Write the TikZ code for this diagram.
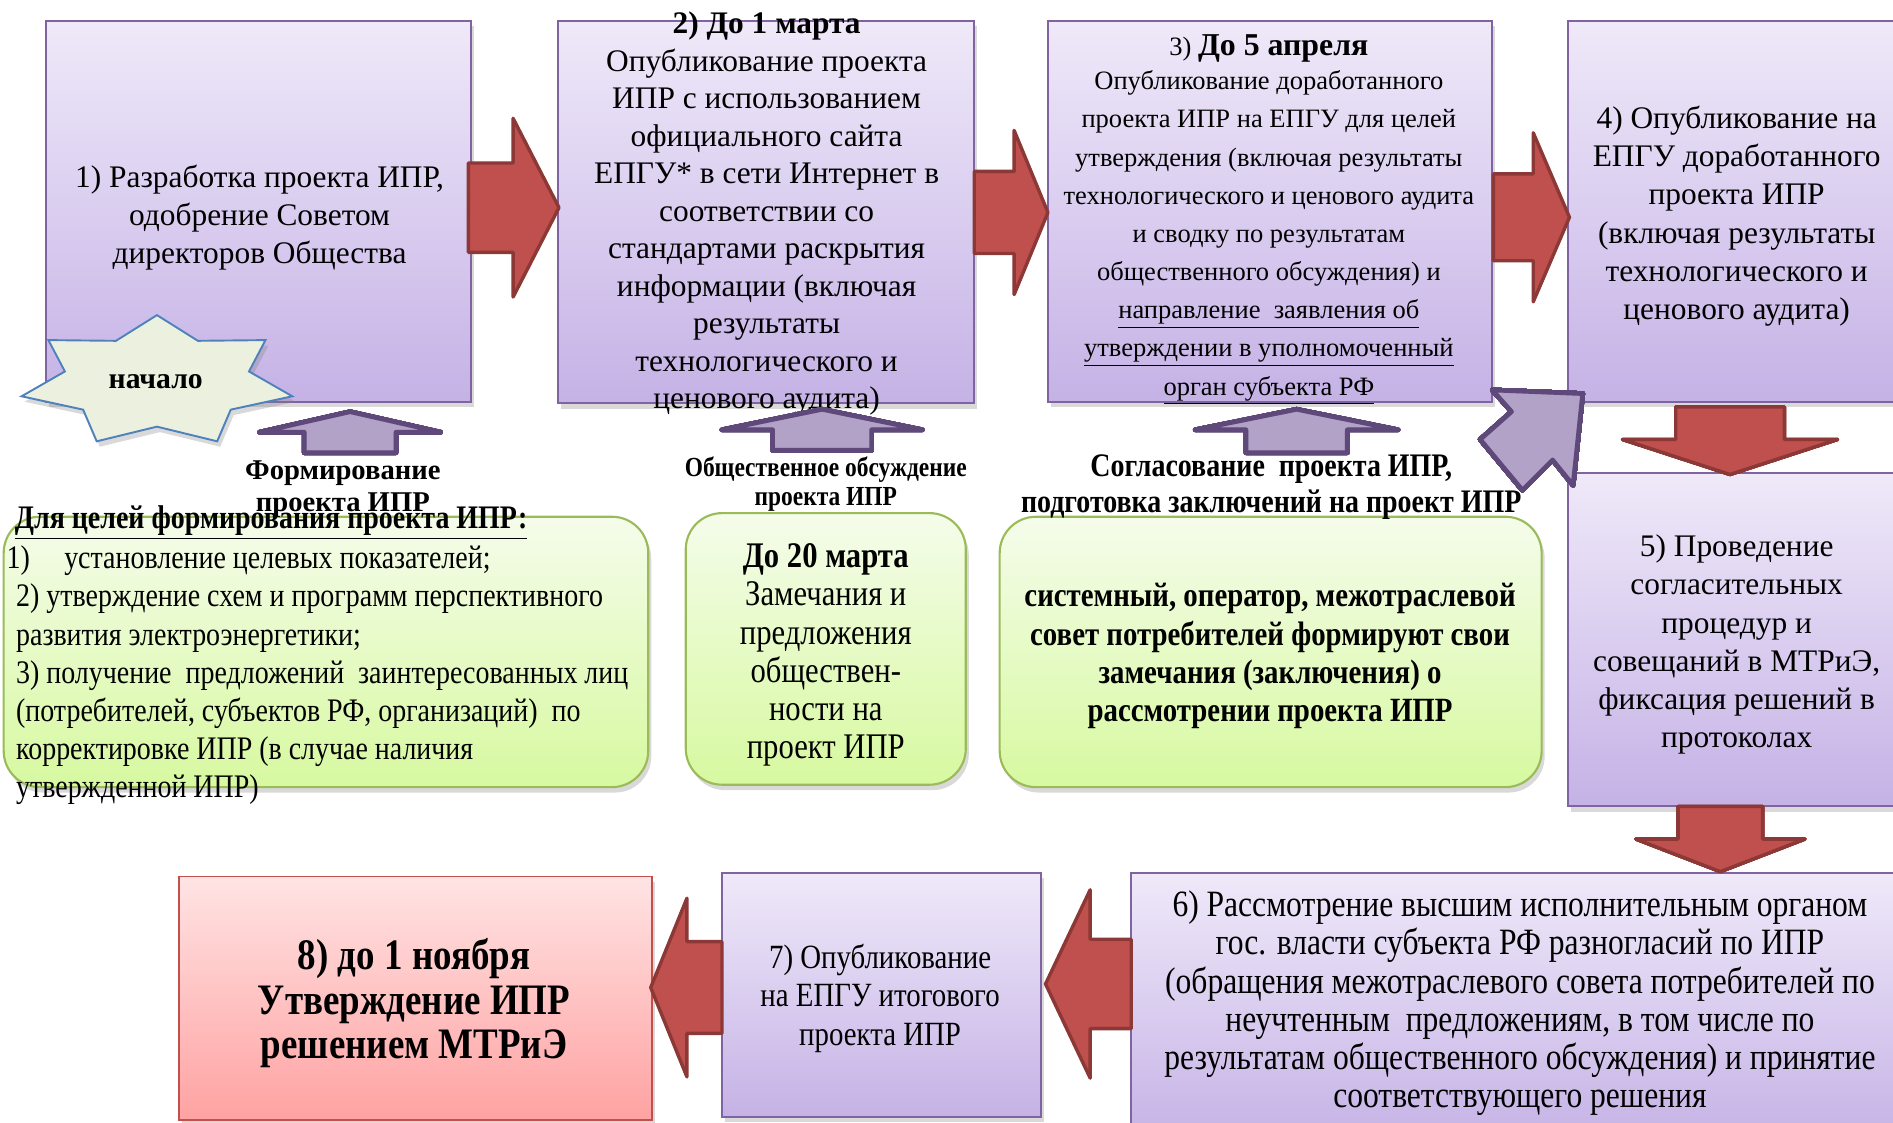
\documentclass[tikz,border=0pt]{standalone}
\usepackage{fontspec}
\setmainfont{Liberation Serif}
\newfontfamily\narrowfont[FakeStretch=0.85]{Liberation Serif}
\usetikzlibrary{shadows}
\definecolor{lavtop}{HTML}{EFE9F9}
\definecolor{lavbot}{HTML}{C5B2E6}
\definecolor{boxline}{HTML}{8064A2}
\definecolor{pinktop}{HTML}{FFE3E3}
\definecolor{pinkbot}{HTML}{FFA2A2}
\definecolor{finalline}{HTML}{C0504D}
\definecolor{greentop}{HTML}{F5FCEB}
\definecolor{greenbot}{HTML}{D7F9A0}
\definecolor{greenline}{HTML}{9BBB59}
\definecolor{arrowred}{HTML}{C0504D}
\definecolor{arrowredline}{HTML}{8C3836}
\definecolor{arrowpurple}{HTML}{B3A2C7}
\definecolor{arrowpurpleline}{HTML}{5F497A}
\definecolor{starfill}{HTML}{EBF1DE}
\definecolor{starline}{HTML}{4F81BD}
\tikzset{boxshadow/.style={drop shadow={opacity=0.3, shadow xshift=0.5mm, shadow yshift=-0.9mm}}}
\tikzset{stepbox/.style={rectangle, draw=boxline, line width=0.9pt, top color=lavtop, bottom color=lavbot, boxshadow}}
\tikzset{finalbox/.style={stepbox, draw=finalline, top color=pinktop, bottom color=pinkbot}}
\tikzset{greenbox/.style={rectangle, rounded corners=0.6cm, draw=greenline, line width=1pt, top color=greentop, bottom color=greenbot, boxshadow}}
\tikzset{boxtext/.style={align=center, inner sep=0pt, font=\fontsize{14.8}{18}\selectfont}}
\tikzset{narrowtext/.style={align=center, inner sep=0pt, font=\narrowfont\fontsize{17}{18}\selectfont}}
\tikzset{redarrow/.style={fill=arrowred, draw=arrowredline, line width=1.6pt, line join=round}}
\tikzset{purplearrow/.style={fill=arrowpurple, fill opacity=0.85, draw=arrowpurpleline, line width=2.2pt, line join=round}}
\tikzset{starshape/.style={fill=starfill, draw=starline, line width=0.9pt, boxshadow}}
% block arrows: tail, base of head, tip, centre, half shaft, half head
\newcommand\harrow[7][redarrow]{\draw[#1] (#2,#5-#6) -- (#3,#5-#6) -- (#3,#5-#7) -- (#4,#5) -- (#3,#5+#7) -- (#3,#5+#6) -- (#2,#5+#6) -- cycle;}
\newcommand\varrow[7][redarrow]{\draw[#1] (#5-#6,#2) -- (#5-#6,#3) -- (#5-#7,#3) -- (#5,#4) -- (#5+#7,#3) -- (#5+#6,#3) -- (#5+#6,#2) -- cycle;}
\begin{document}
\begin{tikzpicture}[x=0.02cm, y=-0.02cm]
\useasboundingbox (0,0) rectangle (1568,930);
\clip (0,0) rectangle (1568,930);

% steps
\node[stepbox, minimum width=7.04cm, minimum height=6.32cm] (b1) at (214,175) {};
\node[stepbox, minimum width=6.9cm, minimum height=6.34cm] (b2) at (634.5,175.5) {};
\node[stepbox, minimum width=7.36cm, minimum height=6.32cm] (b3) at (1052,175) {};
\node[stepbox, minimum width=5.64cm, minimum height=6.32cm] (b4) at (1440,175) {};
\node[stepbox, minimum width=5.64cm, minimum height=5.52cm] (b5) at (1440,530) {};
\node[stepbox, minimum width=12.88cm, minimum height=4.48cm] (b6) at (1259,835) {};
\node[stepbox, minimum width=5.28cm, minimum height=4.04cm] (b7) at (730,824) {};
\node[finalbox, minimum width=7.84cm, minimum height=4.04cm] (b8) at (344,827) {};

% remarks
\node[greenbox, minimum width=10.68cm, minimum height=4.48cm] (g1) at (270,540) {};
\node[greenbox, minimum width=4.64cm, minimum height=4.5cm] (g2) at (684,537.5) {};
\node[greenbox, minimum width=8.98cm, minimum height=4.48cm] (g3) at (1052.5,540) {};

\node[boxtext] (t1) at (215,180.5) {1) Разработка проекта ИПР,\\ одобрение Советом\\ директоров Общества};
\node[boxtext, font=\fontsize{14.8}{17.7}\selectfont] (t2) at (635,177) {\textbf{2) До 1 марта}\\ Опубликование проекта\\ ИПР с использованием\\ официального сайта\\ ЕПГУ* в сети Интернет в\\ соответствии со\\ стандартами раскрытия\\ информации (включая\\ результаты\\ технологического и\\ ценового аудита)};
\node[boxtext, font=\fontsize{12.5}{18}\selectfont] (t3) at (1051,182) {3) {\fontsize{15}{18}\selectfont\bfseries До 5 апреля}\\[-1.7pt] Опубликование доработанного\\ проекта ИПР на ЕПГУ для целей\\ утверждения (включая результаты\\ технологического и ценового аудита\\ и сводку по результатам\\ общественного обсуждения) и\\ \underline{направление\ \ заявления об}\\ \underline{утверждении в уполномоченный}\\ \underline{орган субъекта РФ}};
\node[boxtext] (t4) at (1438.5,179) {4) Опубликование на\\ ЕПГУ доработанного\\ проекта ИПР\\ (включая результаты\\ технологического и\\ ценового аудита)};
\node[boxtext] (t5) at (1438.5,534) {5) Проведение\\ согласительных\\ процедур и\\ совещаний в МТРиЭ,\\ фиксация решений в\\ протоколах};
\node[narrowtext, font=\narrowfont\fontsize{17.5}{18}\selectfont] (t6) at (1259,831) {6) Рассмотрение высшим исполнительным органом\\ гос. власти субъекта РФ разногласий по ИПР\\ (обращения межотраслевого совета потребителей по\\ неучтенным\ \ предложениям, в том числе по\\ результатам общественного обсуждения) и принятие\\ соответствующего решения};
\node[narrowtext, font=\narrowfont\fontsize{16}{18}\selectfont] (t7) at (729,827) {7) Опубликование\\ на ЕПГУ итогового\\ проекта ИПР};
\node[narrowtext, font=\narrowfont\bfseries\fontsize{20.5}{21}\selectfont] (t8) at (343,831) {8) до 1 ноября\\ Утверждение ИПР\\ решением МТРиЭ};

\node[narrowtext, align=left, anchor=west, font=\narrowfont\fontsize{15.5}{18}\selectfont] (gt1) at (13,559.5) {\hspace*{-4.5pt}\makebox[27.2pt][l]{1)}установление целевых показателей;\\ 2) утверждение схем и программ перспективного\\ развития электроэнергетики;\\ 3) получение\ \ предложений\ \ заинтересованных лиц\\ (потребителей, субъектов РФ, организаций)\ \ по\\ корректировке ИПР (в случае наличия\\ утвержденной ИПР)};
\node[narrowtext] (gt2) at (684,542.5) {\textbf{До 20 марта}\\ Замечания и\\ предложения\\ обществен-\\ ности на\\ проект ИПР};
\node[narrowtext, font=\narrowfont\bfseries\fontsize{16}{18}\selectfont] (gt3) at (1052,543.5) {системный, оператор, межотраслевой\\ совет потребителей формируют свои\\ замечания (заключения) о\\ рассмотрении проекта ИПР};

% flow arrows
\foreach \tail/\base/\tip/\cy/\sh/\hh in {388/425/463/172/37/74, 807/840/868/176/34/68, 1237/1270/1300/180/36/70, 937/903/866/815/37/78, 598/569/539/818/38/74}
  \harrow{\tail}{\base}{\tip}{\cy}{\sh}{\hh}
\foreach \tail/\base/\tip/\cx/\sh/\hh in {337/364/393/1433/45/89, 668/695/722/1425/35/70}
  \varrow{\tail}{\base}{\tip}{\cx}{\sh}{\hh}
\foreach \tail/\base/\tip/\cx/\sh/\hh in {375/358/341/290/38/75, 373/356/339/681/41/83, 375/356/339/1074/42/84}
  \varrow[purplearrow]{\tail}{\base}{\tip}{\cx}{\sh}{\hh}
\draw[purplearrow] (1236,323) -- (1311,326) -- (1303,402) -- (1286,381) -- (1261,406) -- (1226,364) -- (1252,341) -- cycle;

% start star
\draw[starshape] (130,261) \foreach \k in {1,...,13} { -- ({130+(1-0.32*mod(\k,2))*115*cos(90+\k*180/7)}, {316-(1-0.32*mod(\k,2))*55*sin(90+\k*180/7)}) } -- cycle;
\node[font=\bfseries\fontsize{14}{16}\selectfont] (start) at (129,316) {начало};

% stage labels
\node[align=center, inner sep=0pt, font=\bfseries\fontsize{13.5}{15.3}\selectfont] (l1) at (284,405) {Формирование\\ проекта ИПР};
\node[narrowtext, font=\narrowfont\bfseries\fontsize{13}{13.9}\selectfont] (l2) at (684,401) {Общественное обсуждение\\ проекта ИПР};
\node[narrowtext, font=\narrowfont\bfseries\fontsize{15.5}{16.8}\selectfont] (l3) at (1053,403.5) {Согласование\ \ проекта ИПР,\\ подготовка заключений на проект ИПР};
\node[anchor=west, inner sep=0pt, font=\narrowfont\bfseries\fontsize{15.5}{17}\selectfont] (l4) at (12,433) {\underline{Для целей формирования проекта ИПР:}};
\end{tikzpicture}
\end{document}
